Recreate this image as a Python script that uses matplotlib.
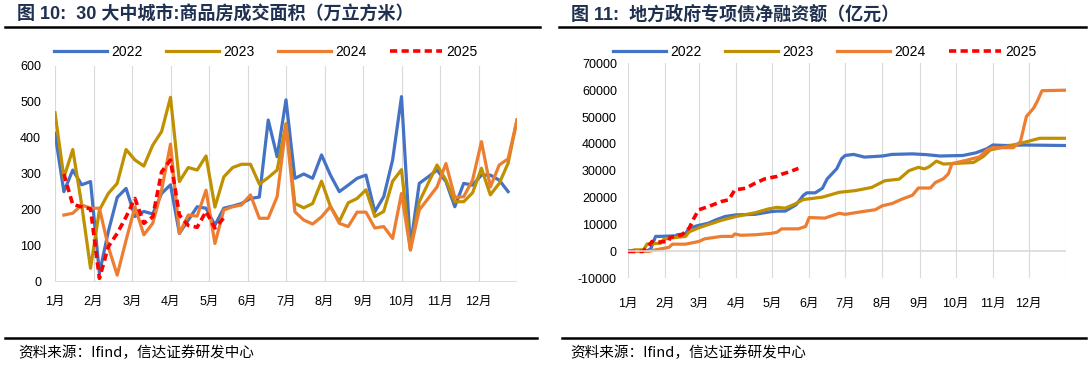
import matplotlib
matplotlib.use("Agg")
import matplotlib.pyplot as plt
from matplotlib.lines import Line2D
import numpy as np

plt.rcParams['font.family'] = ['Liberation Sans', 'Noto Sans CJK SC', 'DejaVu Sans']
plt.rcParams['axes.unicode_minus'] = False

# ---- left chart: weekly area, 30 cities (万平方米) ----
months = ['1月', '2月', '3月', '4月', '5月', '6月', '7月', '8月', '9月', '10月', '11月', '12月']
nan = np.nan
area_2022 = [413, 251, 311, 270, 279, 24, 140, 235, 260, 182, 196, 189, 246, 270, 135, 172,
             209, 205, 158, 205, 211, 218, 232, 236, 450, 348, 506, 288, 300, 288, 353, 297,
             251, 269, 288, 297, 195, 237, 339, 515, 98, 274, 292, 311, 279, 209, 274, 269,
             297, 297, 283, 251, nan]
area_2023 = [470, 290, 368, 215, 38, 200, 246, 274, 368, 339, 322, 380, 418, 513, 279, 318,
             311, 350, 208, 292, 318, 327, 327, 272, 290, 311, 440, 218, 206, 218, 280, 210,
             168, 220, 232, 256, 182, 196, 280, 312, 89, 223, 274, 325, 283, 223, 223, 248,
             316, 242, 274, 330, 450]
area_2024 = [nan, 186, 191, 214, 205, 205, 98, 19, 116, 209, 131, 163, 255, 383, 135, 186,
             183, 255, 107, 200, 209, 214, 242, 177, 177, 237, 434, 195, 172, 161, 181, 210,
             163, 154, 194, 194, 150, 154, 121, 246, 89, 200, 232, 264, 329, 235, 237, 283,
             390, 264, 325, 342, 450]
area_2025 = [nan, 300, 215, 209, 203, 10, 98, 135, 181, 232, 163, 181, 306, 339, 186, 157,
             152, 196, 150, 178]

# ---- right chart: cumulative special bond net financing (亿元), by day of year ----
bond_day_2022 = [0, 15, 19, 23, 27, 40, 41, 48, 51, 59, 67, 73, 81, 90, 106, 119, 124, 131, 140,
                 146, 149, 156, 162, 166, 170, 174, 178, 181, 188, 197, 212, 220, 237, 249, 260,
                 279, 290, 299, 304, 315, 330, 365]
bond_2022 = [0, 0, 1000, 5600, 5600, 5800, 6200, 6600, 8700, 9700, 10500, 11700, 13000, 13600,
             13800, 14800, 15000, 15000, 17300, 20800, 21800, 21800, 23500, 27000, 28900, 30800,
             34500, 35700, 36100, 35100, 35500, 36100, 36300, 36000, 35500, 35700, 36700, 38200,
             39600, 39400, 39600, 39400]
bond_day_2023 = [0, 6, 13, 16, 27, 30, 36, 48, 51, 59, 67, 78, 90, 106, 117, 124, 131, 139, 146,
                 162, 176, 189, 203, 214, 226, 234, 242, 247, 251, 257, 263, 271, 288, 296, 302,
                 315, 327, 338, 343, 365]
bond_2023 = [0, 600, 600, 2800, 3000, 4600, 5000, 5600, 7300, 8800, 10000, 11600, 13000, 14400,
             15800, 16400, 16100, 17600, 19300, 20200, 22000, 22600, 23800, 26300, 26900, 30000,
             31300, 30700, 31500, 33600, 32500, 32700, 33100, 35300, 37800, 39000, 40200, 41500,
             42100, 42100]
bond_day_2024 = [0, 17, 23, 34, 37, 48, 59, 64, 78, 87, 89, 94, 106, 119, 124, 128, 142, 148, 151,
                 164, 176, 181, 195, 206, 212, 220, 228, 237, 242, 252, 256, 263, 267, 270, 282,
                 293, 299, 304, 321, 327, 332, 338, 341, 345, 365]
bond_2024 = [0, 0, 600, 1500, 2700, 2700, 3700, 4700, 5600, 5600, 6500, 6000, 6200, 6700, 7100,
             8400, 8400, 9300, 12600, 12400, 14200, 13800, 14800, 15500, 17000, 17800, 19400,
             20900, 23600, 23600, 25600, 27100, 28900, 32700, 33900, 35200, 37700, 38600, 38600,
             40800, 50200, 53300, 55800, 59800, 60000]
bond_day_2025 = [0, 12, 14, 17, 20, 26, 34, 35, 45, 51, 55, 59, 67, 78, 84, 89, 98, 106, 114,
                 124, 128, 135, 142]
bond_2025 = [0, 0, 700, 1900, 3700, 3500, 3700, 5200, 6200, 8700, 12400, 15500, 16700, 18600,
             19200, 22900, 23500, 25400, 27000, 27900, 28700, 29700, 30900]
month_start_days = [0, 31, 59, 90, 120, 151, 181, 212, 243, 273, 304, 334, 365]

c22, c23, c24, c25 = '#4472C4', '#BF9000', '#ED7D31', '#FF0000'
lw = 2.3
dash = (0, (2.0, 1.2))
grid_c = '#D9D9D9'
title_c = '#1F3050'

fig = plt.figure(figsize=(10.88, 3.66), dpi=100)
W, H = 1088, 366


def style_axes(ax):
    for s in ax.spines.values():
        s.set_visible(False)
    ax.tick_params(length=0, labelsize=9)
    ax.grid(axis='x', color=grid_c, lw=0.8)
    ax.set_axisbelow(True)


# left chart
ax1 = fig.add_axes([55 / W, 1 - 282 / H, 462 / W, 216 / H])
idx = np.arange(53)
ax1.plot(idx, area_2022, color=c22, lw=lw, label='2022')
ax1.plot(idx, area_2023, color=c23, lw=lw, label='2023')
ax1.plot(idx, area_2024, color=c24, lw=lw, label='2024')
ax1.plot(np.arange(len(area_2025)), area_2025, color=c25, lw=2.6, ls=dash, label='2025')
ax1.set_xlim(0, 52)
ax1.set_ylim(0, 600)
ax1.set_yticks(range(0, 601, 100))
ax1.set_xticks([52 * k / 12 for k in range(13)])
ax1.set_xticklabels(months + [''], fontsize=8)
ax1.tick_params(axis='x', pad=10)
ax1.tick_params(axis='y', pad=10)
style_axes(ax1)
ax1.axhline(0, color=grid_c, lw=1.2)

# right chart
ax2 = fig.add_axes([628 / W, 1 - 278.3 / H, 438 / W, 215 / H])
ax2.plot(bond_day_2022, bond_2022, color=c22, lw=lw, label='2022')
ax2.plot(bond_day_2023, bond_2023, color=c23, lw=lw, label='2023')
ax2.plot(bond_day_2024, bond_2024, color=c24, lw=lw, label='2024')
ax2.plot(bond_day_2025, bond_2025, color=c25, lw=2.6, ls=dash, label='2025')
ax2.set_xlim(0, 365)
ax2.set_ylim(-10000, 70000)
ax2.set_yticks(range(-10000, 70001, 10000))
ax2.set_xticks(month_start_days)
ax2.set_xticklabels(months + [''], fontsize=8)
ax2.tick_params(axis='x', pad=14)
ax2.tick_params(axis='y', pad=8)
style_axes(ax2)
ax2.axhline(0, color=grid_c, lw=1.2)

# legends
for ax, cx in [(ax1, 266), (ax2, 825)]:
    h, l = ax.get_legend_handles_labels()
    fig.legend(h, l, loc='center', bbox_to_anchor=(cx / W, 1 - 52 / H), ncol=4, frameon=False,
               fontsize=10, handlelength=3.8, handletextpad=0.3, columnspacing=1.7)

# titles and rules
fig.text(17 / W, 1 - 15 / H, '图 10:  30 大中城市:商品房成交面积（万立方米）', fontsize=13,
         fontweight='bold', color=title_c, va='center', family=['Liberation Sans', 'Noto Sans CJK SC'])
fig.text(571 / W, 1 - 15 / H, '图 11:  地方政府专项债净融资额（亿元）', fontsize=13,
         fontweight='bold', color=title_c, va='center', family=['Liberation Sans', 'Noto Sans CJK SC'])
fig.add_artist(Line2D([5 / W, 540 / W], [1 - 27 / H] * 2, color='black', lw=1.8))
fig.add_artist(Line2D([559 / W, 1086 / W], [1 - 27 / H] * 2, color='black', lw=1.8))
fig.add_artist(Line2D([5 / W, 537 / W], [1 - 338 / H] * 2, color='black', lw=1.8))
fig.add_artist(Line2D([562 / W, 1086 / W], [1 - 338 / H] * 2, color='black', lw=1.8))
fig.text(18 / W, 1 - 353 / H, '资料来源：Ifind，信达证券研发中心', fontsize=10.5, style='italic',
         va='center', family=['Noto Sans CJK SC', 'DejaVu Sans'])
fig.text(570 / W, 1 - 353 / H, '资料来源：Ifind，信达证券研发中心', fontsize=10.5, style='italic',
         va='center', family=['Noto Sans CJK SC', 'DejaVu Sans'])

fig.savefig('out.png', dpi=100)
